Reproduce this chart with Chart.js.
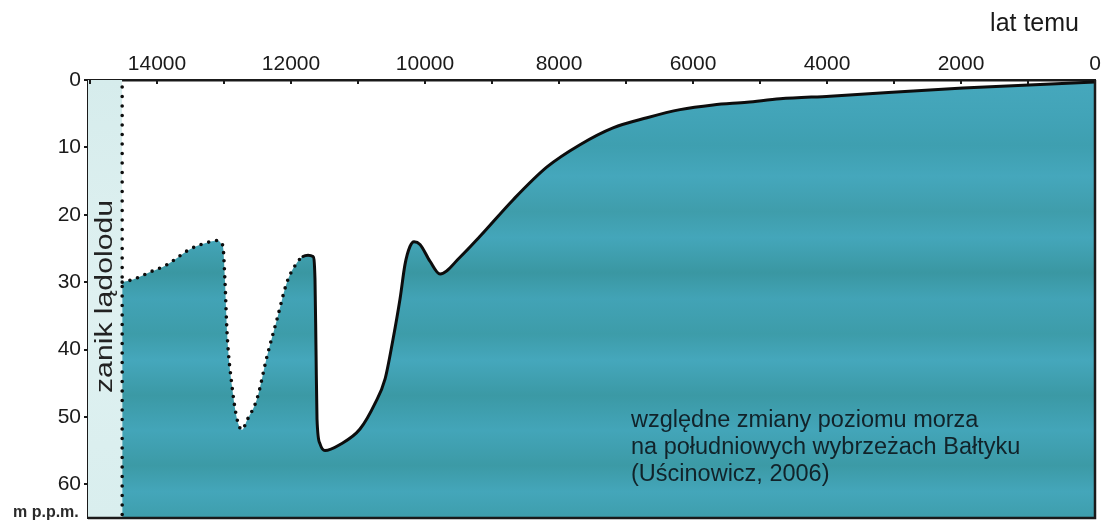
<!DOCTYPE html>
<html lang="pl">
<head>
<meta charset="utf-8">
<title>Względne zmiany poziomu morza</title>
<script src="https://cdn.jsdelivr.net/npm/chart.js@4/dist/chart.umd.min.js"></script>
<style>
  html, body { margin: 0; padding: 0; background: #ffffff; }
  canvas { display: block; }
</style>
</head>
<body>
<canvas id="c" width="1105" height="524"></canvas>
<script>
// Lata temu (malejąco) i głębokość poziomu morza [m p.p.m.]
const YEARS = [
  14520, 14358, 14104, 13851, 13507, 13209, 13090, 13030, 13015, 12985,
  12955, 12881, 12806, 12731, 12657, 12507, 12358, 12209, 12060, 11910,
  11821, 11746, 11672, 11642, 11627, 11612, 11567, 11493, 11269, 10970,
  10746, 10597, 10478, 10373, 10299, 10224, 10164, 10075, 9925, 9776,
  9478, 9179, 8687, 8179, 7687, 7194, 6687, 6194, 5701, 5194,
  4701, 3955, 1970, 0
];
const DEPTHS = [
  30.0, 29.6, 28.5, 27.4, 25.1, 24.0, 23.8, 24.4, 24.7, 30.0,
  37.4, 45.4, 50.3, 51.9, 50.5, 47.3, 41.0, 35.5, 30.0, 27.1,
  26.2, 26.0, 26.2, 29.6, 40.0, 50.3, 54.0, 55.0, 54.1, 51.8,
  48.0, 44.4, 38.5, 32.5, 27.4, 24.7, 24.0, 24.4, 26.9, 28.8,
  26.3, 23.2, 17.8, 12.9, 9.6, 7.1, 5.6, 4.4, 3.7, 3.3,
  2.8, 2.4, 1.2, 0.3
];
// Zanik lądolodu – granica i zasięg pasa
const ICE_EDGE = 14520;
const AXIS_START = 15030;
const DEPTH_MAX = 65;
// Rekonstrukcja niepewna (linia kropkowana) dla lat starszych niż:
const UNCERTAIN_BEFORE = 11800;

// Podziałki
const X_MARKS = [15000, 14000, 13000, 12000, 11000, 10000, 9000, 8000, 7000, 6000, 5000, 4000, 3000, 2000, 1000, 0];
const X_LABELLED = [14000, 12000, 10000, 8000, 6000, 4000, 2000, 0];
const Y_TICKS = [0, 10, 20, 30, 40, 50, 60];

const FONT = "'Liberation Sans', Arial, sans-serif";
const INK = '#1a1a1a';

const curve = YEARS.map((y, i) => ({ x: y, y: DEPTHS[i] }));

function waterFill(context) {
  const chart = context.chart;
  const a = chart.chartArea;
  if (!a) return '#41a3b8';
  const g = chart.ctx.createLinearGradient(0, a.top, 0, a.bottom);
  const stops = [
    [0.00, '#46a8bd'], [0.08, '#42a4b8'], [0.15, '#3e9fb0'], [0.22, '#45a7bc'],
    [0.30, '#3f9dab'], [0.36, '#44a6ba'], [0.44, '#3a97a2'], [0.50, '#42a3b6'],
    [0.58, '#3d9ca9'], [0.64, '#45a7bc'], [0.72, '#3b99a5'], [0.80, '#43a5b9'],
    [0.88, '#3c9aa6'], [0.94, '#44a6ba'], [1.00, '#3e9eac']
  ];
  stops.forEach(([o, c]) => g.addColorStop(o, c));
  return g;
}

function iceFill(context) {
  const chart = context.chart;
  const a = chart.chartArea;
  if (!a) return '#d9eeee';
  const g = chart.ctx.createLinearGradient(0, a.top, 0, a.bottom);
  g.addColorStop(0, '#d6ecec');
  g.addColorStop(0.5, '#dff1f1');
  g.addColorStop(1, '#d9eeee');
  return g;
}

// Ramka, znaczniki osi X skierowane do wnętrza i opisy
const decorations = {
  id: 'decorations',
  afterDatasetsDraw(chart) {
    const { ctx, chartArea: a, scales } = chart;
    ctx.save();
    ctx.strokeStyle = INK;
    ctx.lineWidth = 2.5;
    ctx.beginPath();
    ctx.moveTo(a.right, a.top);
    ctx.lineTo(a.right, a.bottom);
    ctx.lineTo(a.left, a.bottom);
    ctx.stroke();

    ctx.lineWidth = 2;
    X_MARKS.forEach(v => {
      const px = scales.x.getPixelForValue(v);
      if (px <= a.left + 2 || px >= a.right - 2) return;
      ctx.beginPath();
      ctx.moveTo(px, a.top);
      ctx.lineTo(px, a.top + 4);
      ctx.stroke();
    });
    ctx.restore();
  },
  afterDraw(chart) {
    const { ctx, scales } = chart;
    ctx.save();
    ctx.fillStyle = INK;
    ctx.textBaseline = 'alphabetic';

    ctx.font = `25px ${FONT}`;
    ctx.textAlign = 'right';
    ctx.fillText('lat temu', 1079, 31);

    ctx.font = `bold 16px ${FONT}`;
    ctx.textAlign = 'left';
    ctx.fillStyle = '#2a2a2a';
    ctx.fillText('m p.p.m.', 13, 517);

    // Pionowy opis w pasie zaniku lądolodu
    const bandMid = (scales.x.getPixelForValue(AXIS_START) + scales.x.getPixelForValue(ICE_EDGE)) / 2;
    ctx.save();
    ctx.translate(bandMid + 7, 393);
    ctx.rotate(-Math.PI / 2);
    ctx.font = `23px ${FONT}`;
    const label = 'zanik lądolodu';
    const w = ctx.measureText(label).width;
    ctx.scale(193 / w, 1);
    ctx.fillStyle = '#222222';
    ctx.fillText(label, 0, 0);
    ctx.restore();

    ctx.font = `23.5px ${FONT}`;
    ctx.fillStyle = '#11232a';
    ctx.textAlign = 'left';
    ctx.fillText('względne zmiany poziomu morza', 631, 427);
    ctx.fillText('na południowych wybrzeżach Bałtyku', 631, 454);
    ctx.fillText('(Uścinowicz, 2006)', 631, 481);
    ctx.restore();
  }
};

new Chart(document.getElementById('c'), {
  type: 'line',
  data: {
    datasets: [
      {
        // pas zaniku lądolodu
        data: [{ x: AXIS_START, y: 0 }, { x: ICE_EDGE, y: 0 }],
        fill: 'start',
        backgroundColor: iceFill,
        borderWidth: 0,
        pointRadius: 0,
        tension: 0,
        order: 3
      },
      {
        // krzywa poziomu morza
        data: curve,
        fill: 'start',
        backgroundColor: waterFill,
        borderColor: '#0d0d0d',
        borderWidth: 3,
        borderCapStyle: 'round',
        borderJoinStyle: 'round',
        cubicInterpolationMode: 'monotone',
        pointRadius: 0,
        segment: {
          borderDash: ctx => (ctx.p1.parsed.x > UNCERTAIN_BEFORE ? [0, 8] : undefined),
          borderWidth: ctx => (ctx.p1.parsed.x > UNCERTAIN_BEFORE ? 3.6 : 3)
        },
        order: 2
      },
      {
        // granica zaniku lądolodu
        data: [{ x: ICE_EDGE, y: 0 }, { x: ICE_EDGE, y: DEPTH_MAX }],
        fill: false,
        borderColor: '#0d0d0d',
        borderWidth: 3.6,
        borderCapStyle: 'round',
        borderDash: [0, 9.5],
        borderDashOffset: -7,
        pointRadius: 0,
        tension: 0,
        order: 1
      }
    ]
  },
  options: {
    responsive: false,
    devicePixelRatio: 1,
    animation: false,
    layout: { padding: { top: 0, left: 0, right: 10, bottom: 6 } },
    plugins: {
      legend: { display: false },
      tooltip: { enabled: false }
    },
    scales: {
      x: {
        type: 'linear',
        position: 'top',
        reverse: true,
        min: 0,
        max: AXIS_START,
        afterBuildTicks: s => { s.ticks = X_MARKS.map(v => ({ value: v })); },
        afterFit: s => { s.height = 80; s.paddingLeft = 0; s.paddingRight = 0; },
        grid: { display: false, drawTicks: false, tickLength: 0 },
        border: { display: true, color: INK, width: 2.5 },
        ticks: {
          autoSkip: false,
          maxRotation: 0,
          padding: 3,
          color: INK,
          font: { family: FONT, size: 21 },
          callback: v => (X_LABELLED.includes(v) ? String(v) : '')
        }
      },
      y: {
        type: 'linear',
        reverse: true,
        min: 0,
        max: DEPTH_MAX,
        afterBuildTicks: s => { s.ticks = Y_TICKS.map(v => ({ value: v })); },
        afterFit: s => { s.width = 88; s.paddingTop = 0; s.paddingBottom = 0; },
        grid: {
          display: true,
          drawOnChartArea: false,
          drawTicks: true,
          tickLength: 4,
          color: INK,
          lineWidth: 2
        },
        border: { display: true, color: INK, width: 2.5 },
        ticks: {
          padding: 3,
          color: INK,
          font: { family: FONT, size: 21 },
          callback: v => String(v)
        }
      }
    }
  },
  plugins: [decorations]
});
</script>
</body>
</html>
